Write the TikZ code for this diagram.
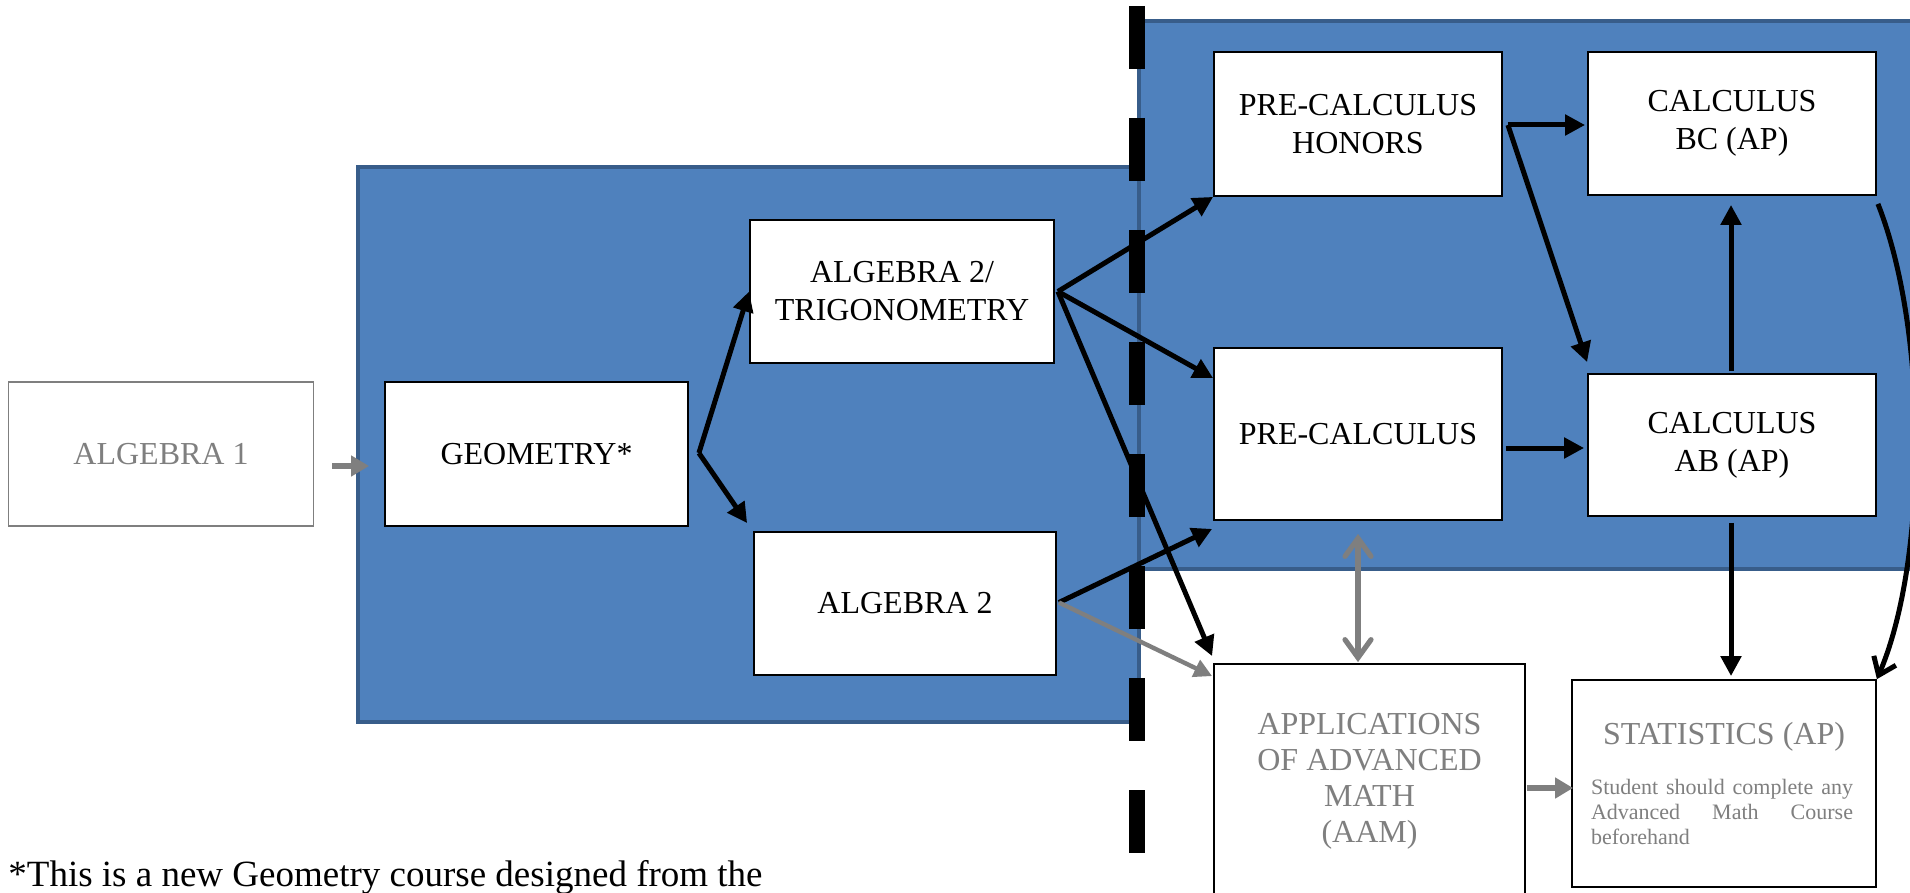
\documentclass[tikz,border=0pt]{standalone}
\usepackage{fontspec}
\setmainfont{Liberation Serif}
\usetikzlibrary{arrows.meta,calc}

\definecolor{panelblue}{HTML}{4F81BD}
\definecolor{paneledge}{HTML}{385D8A}
\definecolor{mute}{HTML}{7F7F7F}

\tikzset{
  panel/.style={fill=panelblue, draw=paneledge, line width=2.4pt},
  course/.style={draw=black, line width=0.9pt, fill=white, inner sep=0pt,
    align=center, font=\fontsize{16}{19}\selectfont},
  arr/.style={line width=2.5pt, -{Triangle[length=10pt,width=10pt]}},
  garr/.style={draw=mute, line width=3pt, -{Triangle[length=9pt,width=10pt,fill=mute]}},
  gthin/.style={draw=mute, line width=2.2pt, -{Triangle[length=9pt,width=9pt,fill=mute]}},
  gboth/.style={draw=mute, line width=2.6pt, line cap=round,
    {Straight Barb[length=9pt,width=13pt,line cap=round]}-{Straight Barb[length=9pt,width=13pt,line cap=round]}},
  vee/.style={line width=2.5pt, -{Straight Barb[length=8pt,width=12pt]}},
  divider/.style={line width=8pt, dash pattern=on 31.5pt off 24.5pt}
}

\begin{document}
\begin{tikzpicture}[x=0.5pt,y=-0.5pt]
\useasboundingbox (0,0) rectangle (1910,893);
\clip (0,0) rectangle (1910,893);

% shaded panels behind the course boxes
\draw[panel] (358,167) rectangle (1139,722);
\draw[panel] (1139,21) rectangle (1925,569);

% vertical divider
\coordinate (divtop) at (1137,6);
\coordinate (divbot) at (1137,960);
\draw[divider] (divtop) -- (divbot);

% course boxes
\node[course, draw=mute, text=mute, minimum width=152.5pt, minimum height=72pt] (alg1) at (161,454) {ALGEBRA 1};
\node[course, minimum width=151.5pt, minimum height=72pt] (geom) at (536.5,454) {GEOMETRY*};
\node[course, minimum width=152pt, minimum height=71.5pt] (a2t) at (902,291.5) {ALGEBRA 2/\\TRIGONOMETRY};
\node[course, minimum width=151pt, minimum height=71.5pt] (a2) at (905,603.5) {ALGEBRA 2};
\node[course, minimum width=144pt, minimum height=72pt] (pch) at (1358,124) {PRE-CALCULUS\\HONORS};
\node[course, minimum width=144pt, minimum height=71.5pt] (cbc) at (1732,123.5) {CALCULUS\\BC (AP)};
\node[course, minimum width=144pt, minimum height=86pt] (pc) at (1358,434) {PRE-CALCULUS};
\node[course, minimum width=144pt, minimum height=71pt] (cab) at (1732,445) {CALCULUS\\AB (AP)};
\node[course, text=mute, minimum width=155.5pt, minimum height=117pt,
      font=\fontsize{16}{18}\selectfont] (aam) at (1369.5,781) {APPLICATIONS\\OF ADVANCED\\MATH\\(AAM)};
\node[course, minimum width=152pt, minimum height=103.5pt] (stat) at (1724,783.5) {};
\node[text=mute, inner sep=0pt, font=\fontsize{16}{19}\selectfont] (stattitle) at (1724,737) {STATISTICS (AP)};
\node[text=mute, inner sep=0pt, text width=131pt, align=left,
      font=\fontsize{11}{12.5}\selectfont] (statnote) at (1722,812)
  {Student\hfill should\hfill complete\hfill any\\
   Advanced\hfill Math\hfill Course\\
   beforehand};

% footnote
\node[anchor=base west, inner sep=0pt, font=\fontsize{18.5}{22}\selectfont] (note) at (8,886)
  {*This is a new Geometry course designed from the};

% connectors
\draw[garr] ($(alg1.east)+(18,12)$) -- ($(geom.west)+(-15,12)$);

\coordinate (gsplit) at ($(geom.east)+(10,-1)$);
\draw[arr] (gsplit) -- (a2t.west);
\draw[arr] (gsplit) -- ($(a2.north west)+(-6,-8)$);

\coordinate (tsplit) at ($(a2t.east)+(3,0)$);
\draw[arr] (tsplit) -- (pch.south west);
\draw[arr] (tsplit) -- ($(pc.north west)+(0,31)$);
\draw[arr] (tsplit) -- ($(aam.north west)+(-1,-7)$);

\coordinate (asplit) at ($(a2.east)+(2,-1)$);
\draw[arr] (asplit) -- ($(pc.south west)+(-1,8)$);
\draw[gthin] (asplit) -- ($(aam.north west)+(-1,13)$);

\coordinate (hsplit) at ($(pch.east)+(5,1)$);
\draw[arr] (hsplit) -- ($(cbc.west)+(-2,1.5)$);
\draw[arr] (hsplit) -- ($(cab.north west)+(0,-11)$);

\draw[arr] ($(pc.east)+(3,14)$) -- ($(cab.west)+(-3,3)$);
\draw[arr] ($(cab.north)+(-1,-2)$) -- ($(cbc.south)+(-1,9)$);
\draw[arr] ($(cab.south)+(-1,6)$) -- ($(stat.north)+(7,-3)$);
\draw[vee] ($(cbc.south east)+(1,8)$) .. controls (1928,330) and (1928,560) .. (stat.north east);

\draw[gboth] ($(pc.south)+(0,13)$) -- ($(aam.north)+(-11.5,-1)$);
\draw[garr] ($(aam.east)+(1,7)$) -- ($(stat.west)+(2,4.5)$);
\end{tikzpicture}
\end{document}
